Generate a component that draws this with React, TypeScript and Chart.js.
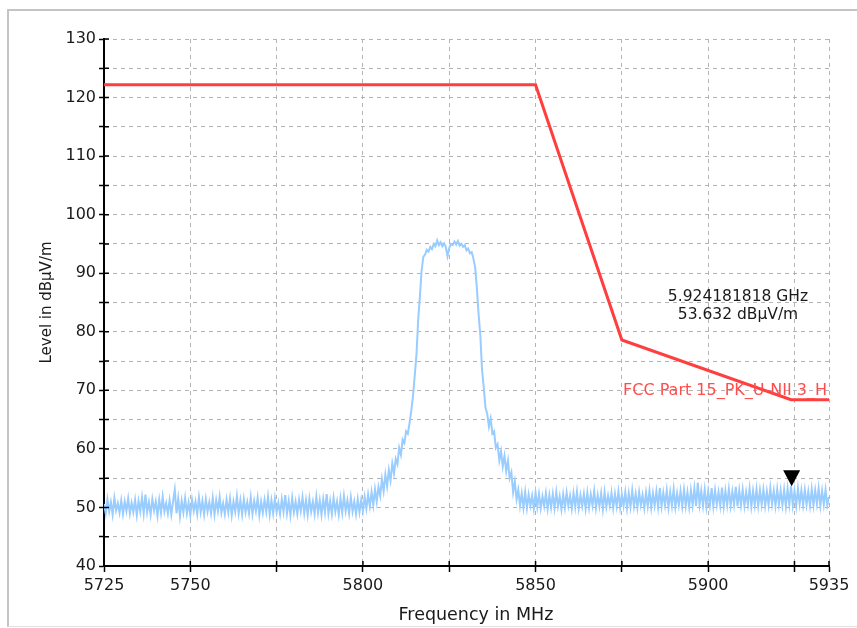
import React, { useEffect, useRef } from 'react';
import { Chart, registerables } from 'chart.js';

Chart.register(...registerables);

// ---- axes ----
const xMinMHz = 5725;
const xMaxMHz = 5935;
const xTickValues = [5725, 5750, 5775, 5800, 5825, 5850, 5875, 5900, 5925, 5935];
const xTickLabels = ['5725', '5750', '', '5800', '', '5850', '', '5900', '', '5935'];
const yMinLevel = 40;
const yMaxLevel = 130;
const yTickStep = 5;
const yLabelEvery = 10;
const xTitle = 'Frequency in MHz';
const yTitle = 'Level in dBµV/m';

// ---- limit line ----
const limitName = 'FCC Part 15_PK_U-NII 3_H';
const limitFreqs = [5725, 5850, 5875, 5924, 5935];
const limitLevels = [122.2, 122.2, 78.6, 68.4, 68.4];

// ---- marker ----
const markerFreqMHz = 5924.181818;
const markerLevel = 53.632;
const markerLines = ['5.924181818 GHz', '53.632 dBµV/m'];

// ---- measured trace (0.5 MHz steps from 5725 MHz) ----
const traceStartMHz = 5725;
const traceStepMHz = 0.5;
const traceLevels = [
  50.6, 49.0, 51.4, 49.3, 50.9, 48.8, 51.6, 49.5, 50.7, 49.1, 51.2, 48.9, 51.0, 49.4, 51.5, 49.0, 50.8, 49.2, 51.3, 48.7,
  51.1, 49.3, 51.7, 49.0, 52.2, 49.2, 50.9, 48.8, 51.4, 49.5, 51.0, 48.6, 51.3, 49.1, 51.8, 49.3, 50.7, 49.0, 51.2, 48.8,
  51.0, 53.0, 49.0, 51.5, 48.5, 51.1, 49.2, 51.6, 49.0, 50.8, 48.7, 51.3, 49.4, 51.0, 48.9, 51.7, 49.2, 51.1, 48.8, 51.4,
  49.3, 50.9, 49.0, 51.6, 48.8, 51.2, 49.4, 51.8, 49.1, 50.7, 48.9, 51.3, 49.2, 51.5, 48.7, 51.0, 49.3, 51.9, 49.0, 51.2,
  48.8, 51.4, 49.2, 50.9, 49.0, 51.7, 48.9, 51.1, 49.4, 51.6, 48.7, 51.0, 49.1, 51.3, 49.3, 51.8, 48.8, 51.2, 49.0, 51.5,
  49.2, 50.8, 48.9, 51.4, 49.3, 52.1, 49.0, 51.1, 48.7, 51.6, 49.2, 51.0, 48.9, 51.3, 49.4, 51.7, 49.0, 51.2, 48.8, 51.5,
  49.3, 51.0, 48.9, 51.8, 49.1, 51.2, 48.8, 51.4, 49.2, 52.3, 49.0, 51.1, 48.9, 51.6, 49.3, 51.0, 48.8, 51.5, 49.1, 51.9,
  49.4, 51.2, 49.0, 51.7, 49.3, 51.0, 48.9, 51.4, 49.2, 51.3, 49.4, 51.8, 49.8, 52.2, 50.2, 52.6, 50.4, 53.1, 51.0, 53.5,
  52.0, 54.8, 52.8, 55.6, 53.6, 56.4, 54.6, 57.5, 55.8, 58.3, 57.4, 60.2, 59.0, 61.6, 61.0, 63.0, 62.6, 64.4, 66.5, 69.0,
  72.5, 76.0, 82.0, 86.0, 90.5, 92.8, 93.2, 94.0, 93.7, 94.5, 94.1, 95.0, 94.6, 95.6, 94.8, 95.3, 94.6, 95.1, 94.5, 92.9,
  94.3, 95.0, 94.8, 95.4, 94.9, 95.5, 94.7, 95.0, 94.5, 94.8, 93.9, 94.2, 93.4, 93.6, 92.5, 91.0, 87.5, 83.0, 79.5, 73.5,
  70.5, 67.0, 66.0, 63.8, 65.2, 62.6, 63.0, 60.2, 60.8, 58.0, 59.6, 57.0, 58.8, 56.2, 58.0, 55.0, 56.0, 52.6, 54.4, 51.4,
  53.0, 50.3, 52.4, 50.0, 52.6, 49.9, 52.2, 50.3, 52.0, 49.8, 52.5, 50.1, 52.3, 49.9, 51.9, 50.2, 52.4, 49.8, 52.1, 50.0,
  52.3, 49.9, 52.6, 50.2, 51.9, 49.7, 52.2, 50.0, 52.5, 50.3, 52.0, 49.8, 52.4, 50.1, 52.7, 49.9, 52.1, 50.2, 52.3, 49.8,
  52.5, 50.0, 52.2, 50.3, 52.8, 49.9, 52.1, 50.2, 52.4, 49.7, 52.6, 50.1, 52.0, 50.3, 52.5, 49.9, 52.3, 50.2, 52.7, 50.0,
  52.2, 50.3, 52.6, 49.9, 52.4, 50.1, 52.9, 50.2, 52.3, 50.0, 52.6, 50.4, 52.1, 49.9, 52.5, 50.2, 52.8, 50.0, 52.4, 50.3,
  52.7, 50.1, 53.3, 50.2, 52.5, 50.4, 52.9, 50.0, 52.6, 50.3, 53.1, 50.1, 52.4, 50.4, 52.8, 50.2, 53.0, 50.3, 52.6, 50.1,
  52.9, 50.4, 53.2, 50.2, 54.2, 50.5, 52.8, 50.3, 53.0, 50.1, 52.7, 50.4, 53.3, 50.2, 52.9, 50.5, 52.6, 50.3, 53.4, 50.2,
  52.8, 50.4, 53.1, 50.3, 52.7, 50.5, 53.5, 50.2, 52.9, 50.4, 53.0, 50.3, 52.6, 50.5, 53.2, 50.2, 52.8, 50.4, 53.1, 50.3,
  52.9, 50.5, 53.0, 50.3, 52.7, 50.4, 53.3, 50.6, 52.8, 50.3, 53.1, 50.5, 52.9, 50.4, 53.0, 50.2, 53.2, 50.5, 53.6, 50.4,
  52.8, 50.3, 53.2, 50.6, 52.9, 50.4, 53.0, 50.5, 52.7, 50.3, 53.1, 50.4, 52.9, 50.6, 53.2, 50.3, 52.8, 50.5, 53.0, 50.4,
  51.8,
];

const FONT = "'DejaVu Sans', sans-serif";
const TEXT = '#1a1a1a';
const GRID = '#b4b4b4';
const TRACE = '#99ccff';
const LIMIT = '#ff3f3f';
const LIMIT_TEXT = '#ff4d4d';

const overlayPlugin = {
  id: 'overlay',
  afterDraw(chart: any) {
    const { ctx, chartArea, scales } = chart;
    const x = scales.x;
    const y = scales.y;
    ctx.save();
    // inner halves of tick marks (ticks cross the axes)
    ctx.strokeStyle = '#000';
    ctx.lineWidth = 1.5;
    ctx.beginPath();
    x.ticks.forEach((t: any) => {
      const px = x.getPixelForValue(t.value);
      ctx.moveTo(px, chartArea.bottom);
      ctx.lineTo(px, chartArea.bottom - 5);
    });
    y.ticks.forEach((t: any) => {
      const py = y.getPixelForValue(t.value);
      ctx.moveTo(chartArea.left, py);
      ctx.lineTo(chartArea.left + 5, py);
    });
    ctx.stroke();

    // marker triangle, apex at the marker point
    const mx = x.getPixelForValue(markerFreqMHz);
    const my = y.getPixelForValue(markerLevel);
    ctx.fillStyle = '#000';
    ctx.beginPath();
    ctx.moveTo(mx, my);
    ctx.lineTo(mx - 8.5, my - 16);
    ctx.lineTo(mx + 8.5, my - 16);
    ctx.closePath();
    ctx.fill();

    // marker readout
    ctx.fillStyle = TEXT;
    ctx.font = `15.5px ${FONT}`;
    ctx.textAlign = 'center';
    ctx.textBaseline = 'middle';
    markerLines.forEach((line, i) => {
      ctx.fillText(line, chartArea.right - 91, chartArea.top + 258 + i * 18);
    });

    // limit line name
    ctx.fillStyle = LIMIT_TEXT;
    ctx.font = `16px ${FONT}`;
    ctx.textAlign = 'right';
    ctx.fillText(limitName, chartArea.right - 2, y.getPixelForValue(limitLevels[limitLevels.length - 1]) - 9);

    // x axis title
    ctx.fillStyle = TEXT;
    ctx.font = `17.5px ${FONT}`;
    ctx.textAlign = 'center';
    ctx.fillText(xTitle, chartArea.left + 372, chart.height - 13);
    ctx.restore();
  },
};

export default function App() {
  const ref = useRef<HTMLCanvasElement>(null);

  useEffect(() => {
    const canvas = ref.current;
    if (!canvas) return;
    const traceData = traceLevels.map((v, i) => ({ x: traceStartMHz + i * traceStepMHz, y: v }));
    const limitData = limitFreqs.map((f, i) => ({ x: f, y: limitLevels[i] }));

    const chart = new Chart(canvas, {
      type: 'line',
      data: {
        datasets: [
          {
            label: 'Trace',
            data: traceData,
            borderColor: TRACE,
            borderWidth: 2,
            pointRadius: 0,
            tension: 0,
            order: 2,
          },
          {
            label: limitName,
            data: limitData,
            borderColor: LIMIT,
            borderWidth: 3,
            pointRadius: 0,
            tension: 0,
            order: 1,
          },
        ],
      },
      options: {
        responsive: false,
        animation: false,
        layout: { padding: { top: 39, right: 28, bottom: 0, left: 0 } },
        plugins: {
          legend: { display: false },
          tooltip: { enabled: false },
        },
        scales: {
          x: {
            type: 'linear',
            min: xMinMHz,
            max: xMaxMHz,
            afterBuildTicks: (s: any) => {
              s.ticks = xTickValues.map((v) => ({ value: v }));
            },
            afterFit: (s: any) => {
              s.height = 62;
            },
            ticks: {
              autoSkip: false,
              maxRotation: 0,
              minRotation: 0,
              padding: 4,
              color: TEXT,
              font: { family: FONT, size: 16 },
              callback: (v: any) => {
                const idx = xTickValues.indexOf(Number(v));
                return idx >= 0 ? xTickLabels[idx] : '';
              },
            },
            grid: {
              color: GRID,
              lineWidth: 1,
              tickLength: 6,
              tickColor: '#000',
              tickWidth: 1.5,
              tickBorderDash: [],
            },
            border: { display: true, color: '#000', width: 2, dash: [4, 4] },
          },
          y: {
            type: 'linear',
            min: yMinLevel,
            max: yMaxLevel,
            afterFit: (s: any) => {
              s.width = 104;
            },
            ticks: {
              stepSize: yTickStep,
              autoSkip: false,
              padding: 3,
              color: TEXT,
              font: { family: FONT, size: 16 },
              callback: (v: any) => (Number(v) % yLabelEvery === 0 ? String(v) : ''),
            },
            grid: {
              color: GRID,
              lineWidth: 1,
              tickLength: 5,
              tickColor: '#000',
              tickWidth: 1.5,
              tickBorderDash: [],
            },
            border: { display: true, color: '#000', width: 2, dash: [4, 4] },
            title: {
              display: true,
              text: yTitle,
              color: TEXT,
              font: { family: FONT, size: 15 },
              padding: { top: 38.5, bottom: 0 },
            },
          },
        },
      },
      plugins: [overlayPlugin],
    } as any);

    return () => chart.destroy();
  }, []);

  return (
    <div style={{ position: 'fixed', left: 0, top: 0, width: 857, height: 628, background: '#fff', overflow: 'hidden' }}>
      <div
        style={{
          position: 'absolute',
          left: 7,
          top: 9,
          width: 900,
          height: 618,
          boxSizing: 'border-box',
          borderLeft: '2px solid #c4c4c4',
          borderTop: '2px solid #c4c4c4',
          borderBottom: '1px solid #e2e2e2',
        }}
      />
      <canvas
        ref={ref}
        width={857}
        height={628}
        style={{ position: 'absolute', left: 0, top: 0, width: 857, height: 628 }}
      />
    </div>
  );
}
